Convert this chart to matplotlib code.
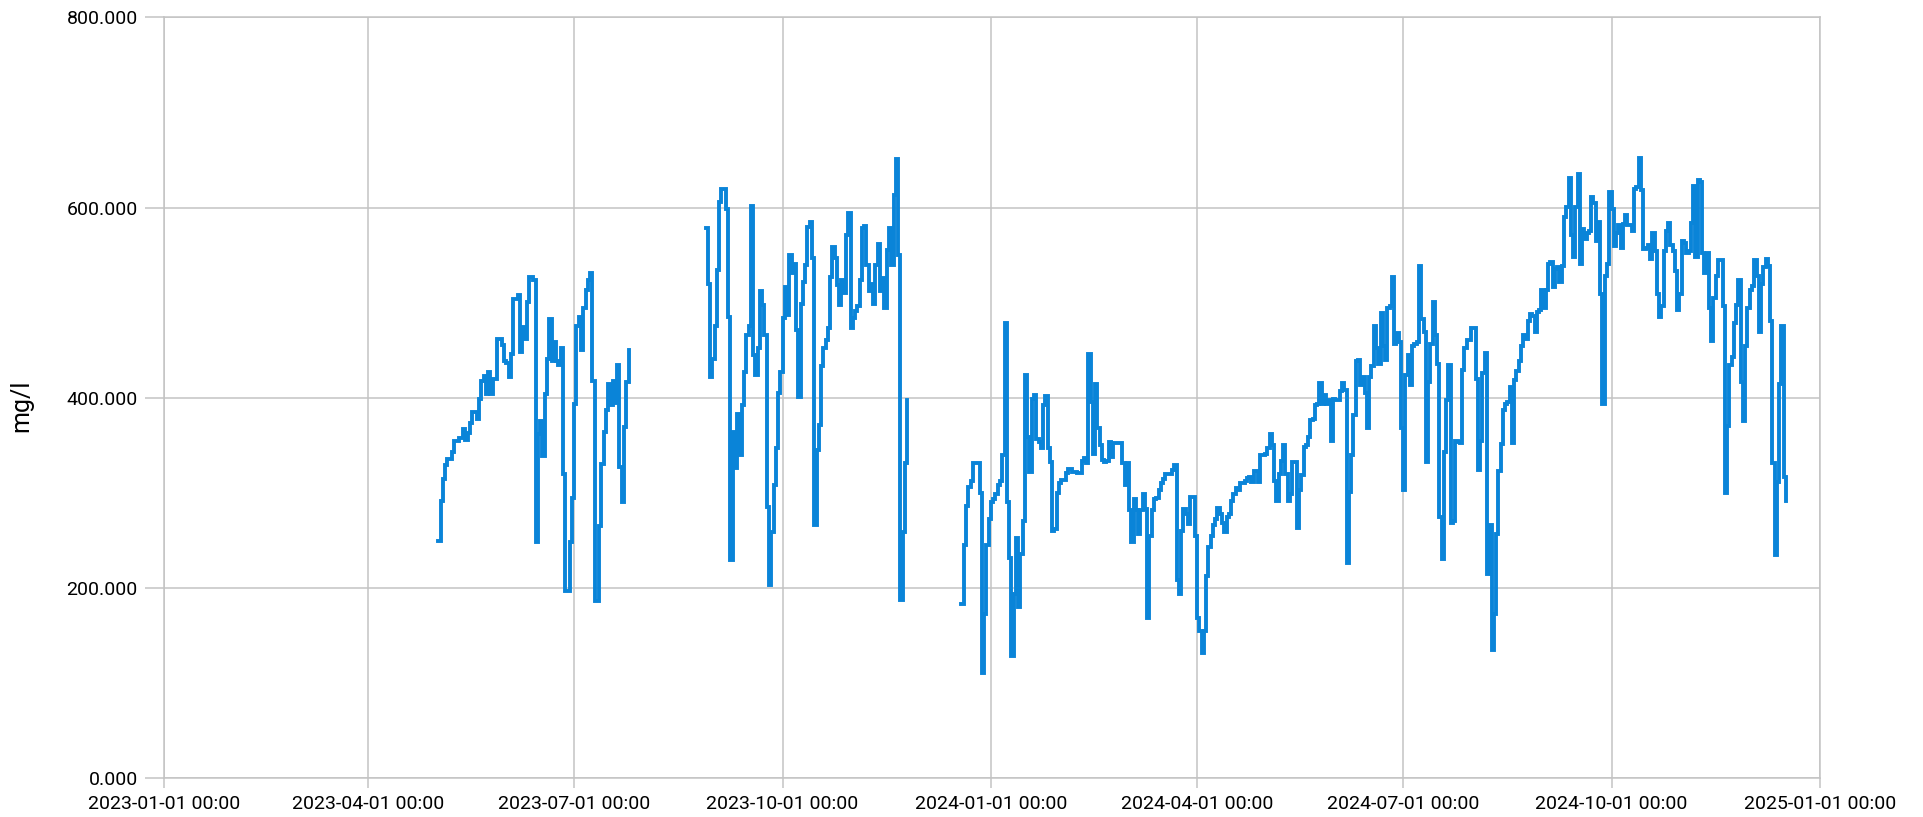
import numpy as np
import pandas as pd
import matplotlib
matplotlib.use("Agg")
import matplotlib.pyplot as plt
import matplotlib.dates as mdates
from matplotlib.ticker import StrMethodFormatter

plt.rcParams['font.family'] = ['Roboto', 'DejaVu Sans']

# daily values (mg/l), three measuring periods
seg1_start = "2023-05-02"
seg1_values = [249, 292, 315, 329, 336, 336, 343, 355, 355, 358, 358, 367, 356, 363, 374, 385, 385, 378,
               399, 418, 423, 404, 427, 404, 420, 420, 462, 462, 455, 439, 437, 422, 446, 504, 504, 508,
               448, 474, 462, 501, 527, 527, 524, 248, 362, 376, 339, 404, 441, 483, 439, 459, 439, 434,
               452, 320, 197, 197, 248, 295, 394, 476, 485, 450, 494, 513, 524, 531, 418, 186, 186, 265,
               330, 364, 387, 415, 392, 418, 395, 434, 327, 290, 369, 417, 450]

seg2_start = "2023-08-28"
seg2_values = [578, 520, 422, 441, 475, 534, 606, 619, 619, 599, 485, 229, 364, 326, 383, 340, 392, 427,
               466, 476, 602, 445, 424, 452, 512, 498, 466, 285, 203, 259, 308, 347, 405, 427, 484, 517,
               487, 550, 531, 541, 471, 401, 499, 522, 540, 580, 585, 547, 266, 345, 371, 433, 452, 461,
               473, 527, 559, 547, 519, 498, 524, 510, 571, 594, 473, 484, 491, 496, 524, 578, 581, 540,
               512, 520, 499, 540, 562, 512, 526, 494, 555, 578, 540, 613, 651, 550, 187, 259, 331, 398]

seg3_start = "2023-12-19"
seg3_values = [
    # winter / spring 2024
    183, 245, 286, 306, 313, 331, 331, 331, 300, 111, 173, 245, 273, 290, 294, 299, 308, 313, 340, 479,
    290, 232, 129, 194, 253, 180, 236, 271, 424, 359, 322, 399, 403, 357, 354, 347, 392, 402, 347, 333,
    260, 262, 300, 310, 314, 314, 321, 325, 325, 322, 322, 321, 321, 334, 337, 331, 446, 396, 341, 415,
    368, 350, 335, 333, 334, 354, 338, 352, 353, 353, 353, 331, 308, 331, 282, 248, 294, 282, 257, 282,
    299, 283, 169, 255, 282, 294, 295, 303, 310, 315, 320, 320, 320, 324, 329, 208, 194, 260, 283, 278,
    267, 296, 296, 255, 169, 155, 132, 155, 213, 243, 255, 266, 273,
    # spring / summer 2024
    284, 278, 268, 259, 275, 278, 291, 299, 305, 303, 310, 310, 313, 316, 317, 312, 323, 323, 312, 340,
    340, 341, 347, 362, 350, 313, 292, 320, 334, 350, 320, 291, 299, 333, 333, 263, 303, 319, 348, 350,
    359, 377, 378, 392, 394, 416, 394, 403, 394, 398, 355, 399, 398, 398, 407, 416, 408, 226, 301, 340,
    382, 439, 440, 413, 422, 405, 368, 422, 433, 475, 452, 436, 489, 454, 440, 494, 496, 527, 457, 468,
    459, 368, 303, 424, 445, 413, 454, 457, 459, 539, 483, 469, 333, 417, 457, 501, 466, 436, 275, 231,
    343, 398, 434, 268, 271, 355, 354, 352, 429, 452, 461, 461, 473, 473, 420, 324, 355, 426, 447, 215,
    266, 135, 173, 257,
    # autumn 2024
    323, 351, 387, 394, 396, 411, 353, 419, 428, 439, 454, 466, 462, 481, 488, 486, 469, 490, 492, 513,
    494, 513, 541, 543, 516, 535, 537, 522, 539, 590, 601, 631, 571, 548, 601, 635, 541, 577, 567, 573,
    575, 611, 605, 565, 585, 509, 394, 528, 541, 616, 599, 560, 573, 582, 558, 583, 592, 582, 582, 575,
    620, 622, 652, 618, 556, 558, 561, 546, 573, 554, 509, 485, 496, 554, 575, 584, 561, 554, 533, 492,
    509, 565, 563, 552, 554, 584, 623, 548, 629, 627, 552, 531, 552, 494, 460, 505, 528, 545, 545, 496,
    300, 370, 434, 443, 479, 498, 524, 417, 376, 454, 494, 513, 518, 545, 528, 469, 520, 537, 546, 539,
    481, 331, 235, 312, 415, 475, 317, 291]

x_start = "2023-01-01"
x_end = "2025-01-01"
y_ticks = [0, 200, 400, 600, 800]

line_color = "#0a84d8"
grid_color = "#c3c3c3"

fig = plt.figure(figsize=(19.23, 8.17), dpi=100)
ax = fig.add_axes([0.0854, 0.0474, 0.8610, 0.9314])

for start, vals in [(seg1_start, seg1_values), (seg2_start, seg2_values), (seg3_start, seg3_values)]:
    dates = pd.date_range(start, periods=len(vals), freq="D")
    ax.step(dates, vals, where="post", color=line_color, lw=2.8, solid_joinstyle="miter")

ax.set_xlim(pd.Timestamp(x_start), pd.Timestamp(x_end))
ax.set_ylim(0, 800)
ax.set_yticks(y_ticks)
ax.yaxis.set_major_formatter(StrMethodFormatter("{x:.3f}"))
ax.xaxis.set_major_locator(mdates.MonthLocator(bymonth=[1, 4, 7, 10]))
ax.xaxis.set_major_formatter(mdates.DateFormatter("%Y-%m-%d %H:%M"))

ax.grid(True, color=grid_color, lw=1.1)
ax.set_axisbelow(True)
for s in ax.spines.values():
    s.set_color(grid_color)
    s.set_linewidth(1.1)
ax.tick_params(axis="x", length=7, width=1.1, color=grid_color, labelsize=14, pad=5, labelcolor="#000000")
ax.tick_params(axis="y", length=14, width=1.1, color=grid_color, labelsize=14, pad=5, labelcolor="#000000")

ax.set_ylabel("mg/l", fontsize=18, color="#000000")
ax.yaxis.set_label_coords(-0.079, 0.49)

fig.savefig("out.png", dpi=100)
